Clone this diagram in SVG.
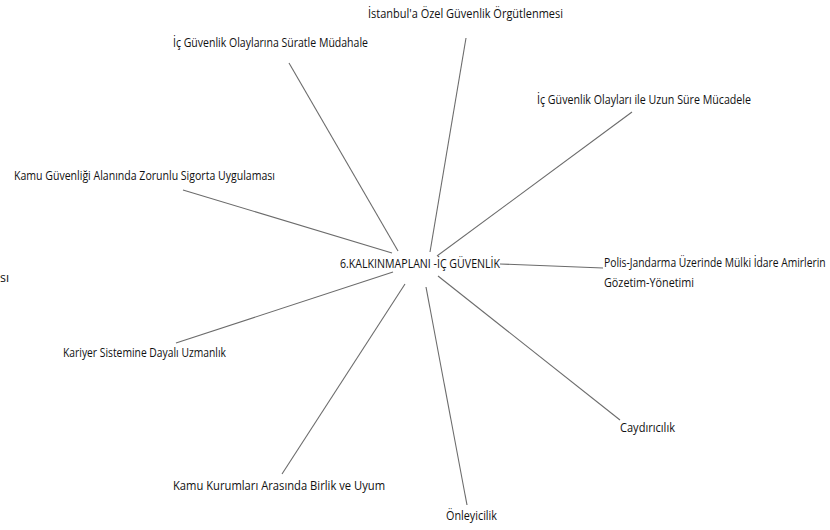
<svg xmlns="http://www.w3.org/2000/svg" width="830" height="530" viewBox="0 0 830 530">
<style>
text{font-family:"Open Sans","Noto Sans","Liberation Sans",sans-serif;font-size:12.5px;fill:#111;}
.c line{stroke:#6b6b6b;stroke-width:1.1;fill:none;}
</style>
<rect width="830" height="530" fill="#fff"/>
<g class="c" id="connectors">
<line x1="466" y1="38" x2="430" y2="252"/>
<line x1="289" y1="63" x2="398" y2="251"/>
<line x1="632" y1="112" x2="437" y2="256"/>
<line x1="183" y1="190" x2="392" y2="253"/>
<line x1="500" y1="264" x2="603" y2="268"/>
<line x1="176" y1="343" x2="393" y2="272"/>
<line x1="620" y1="420" x2="438" y2="276"/>
<line x1="282" y1="474" x2="405" y2="284"/>
<line x1="467" y1="505" x2="426" y2="287"/>
</g>
<g id="center"><text x="340" y="268" textLength="160" lengthAdjust="spacingAndGlyphs">6.KALKINMAPLANI -İÇ GÜVENLİK</text></g>
<g id="n1"><text x="368" y="18" textLength="195" lengthAdjust="spacingAndGlyphs">İstanbul'a Özel Güvenlik Örgütlenmesi</text></g>
<g id="n2"><text x="173" y="47" textLength="195" lengthAdjust="spacingAndGlyphs">İç Güvenlik Olaylarına Süratle Müdahale</text></g>
<g id="n3"><text x="537" y="104" textLength="214" lengthAdjust="spacingAndGlyphs">İç Güvenlik Olayları ile Uzun Süre Mücadele</text></g>
<g id="n4"><text x="14" y="180" textLength="261" lengthAdjust="spacingAndGlyphs">Kamu Güvenliği Alanında Zorunlu Sigorta Uygulaması</text></g>
<g id="n5"><text transform="translate(604,267) scale(0.8,1)" x="0" y="0" textLength="277" lengthAdjust="spacingAndGlyphs">Polis-Jandarma Üzerinde Mülki İdare Amirlerin</text><text x="604" y="287" textLength="90" lengthAdjust="spacingAndGlyphs">Gözetim-Yönetimi</text></g>
<g id="n6"><text x="0" y="282">sı</text></g>
<g id="n7"><text x="63" y="357" textLength="163" lengthAdjust="spacingAndGlyphs">Kariyer Sistemine Dayalı Uzmanlık</text></g>
<g id="n8"><text x="620" y="432" textLength="55" lengthAdjust="spacingAndGlyphs">Caydırıcılık</text></g>
<g id="n9"><text x="173" y="490" textLength="212" lengthAdjust="spacingAndGlyphs">Kamu Kurumları Arasında Birlik ve Uyum</text></g>
<g id="n10"><text x="446" y="520" textLength="51" lengthAdjust="spacingAndGlyphs">Önleyicilik</text></g>
</svg>
